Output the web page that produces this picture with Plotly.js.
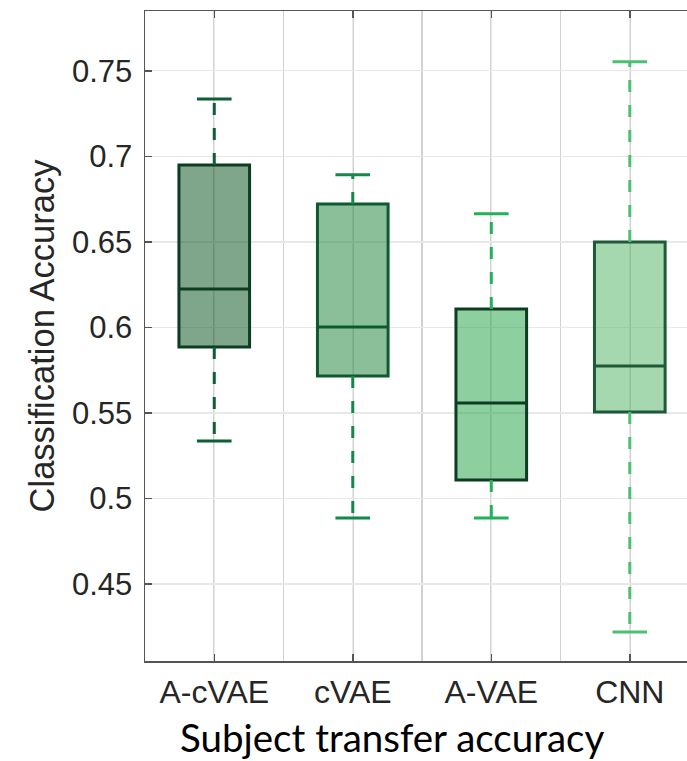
<!DOCTYPE html>
<html>
<head>
<meta charset="utf-8">
<script src="https://cdn.plot.ly/plotly-3.0.1.min.js"></script>
<style>html,body{margin:0;padding:0;background:#fff;}#chart{width:687px;height:761px;}</style>
</head>
<body>
<div id="chart"></div>
<script>
// ---- data ----
const categories = ["A-cVAE", "cVAE", "A-VAE", "CNN"];
const lowerWhisker = [0.5336, 0.4886, 0.4886, 0.4220];
const q1Values     = [0.5886, 0.5716, 0.5108, 0.5506];
const medianValues = [0.6225, 0.6003, 0.5558, 0.5775];
const q3Values     = [0.6950, 0.6722, 0.6108, 0.6500];
const upperWhisker = [0.7336, 0.6892, 0.6664, 0.7553];
const yTickVals = [0.45, 0.5, 0.55, 0.6, 0.65, 0.7, 0.75];
const yTickText = ["0.45", "0.5", "0.55", "0.6", "0.65", "0.7", "0.75"];

// ---- styles ----
const fillColors = ["rgba(0,75,21,0.5)", "rgba(23,127,53,0.5)", "rgba(29,159,65,0.5)", "rgba(77,177,97,0.5)"];
const edgeColors = ["#0b3d1f", "#0e5a2f", "#0c3d20", "#1f5a38"];
const whiskerColors = ["#0d5e35", "#13884a", "#22b05a", "#4cc072"];
const boxWidth = 0.51;
const capHalf = 0.125;

const positions = categories.map((c, i) => i + 1);
const traces = [];

categories.forEach((c, i) => {
  const x = positions[i];
  traces.push({
    type: "box",
    name: c,
    x: [x],
    q1: [q1Values[i]],
    median: [medianValues[i]],
    q3: [q3Values[i]],
    lowerfence: [q1Values[i]],
    upperfence: [q3Values[i]],
    width: boxWidth,
    whiskerwidth: 0,
    fillcolor: fillColors[i],
    line: { color: edgeColors[i], width: 3 },
    boxpoints: false,
    showlegend: false,
    hoverinfo: "skip"
  });
});

categories.forEach((c, i) => {
  const x = positions[i];
  traces.push({
    type: "scatter",
    mode: "lines",
    x: [x, x, null, x, x],
    y: [q3Values[i], upperWhisker[i], null, q1Values[i], lowerWhisker[i]],
    line: { color: whiskerColors[i], width: 3, dash: "12px,13px" },
    showlegend: false,
    hoverinfo: "skip"
  });
  traces.push({
    type: "scatter",
    mode: "lines",
    x: [x - capHalf, x + capHalf, null, x - capHalf, x + capHalf],
    y: [upperWhisker[i], upperWhisker[i], null, lowerWhisker[i], lowerWhisker[i]],
    line: { color: whiskerColors[i], width: 3 },
    showlegend: false,
    hoverinfo: "skip"
  });
});

const layout = {
  width: 687,
  height: 761,
  margin: { l: 145, r: 0, t: 11, b: 100 },
  paper_bgcolor: "#ffffff",
  plot_bgcolor: "#ffffff",
  showlegend: false,
  boxmode: "overlay",
  font: { family: "Liberation Sans, Arial, sans-serif", color: "#262626" },
  xaxis: {
    range: [0.5, 4.413],
    tickvals: positions,
    ticktext: categories,
    ticks: "inside",
    ticklen: 7,
    tickwidth: 1.5,
    tickcolor: "#555555",
    showline: true,
    linecolor: "#555555",
    linewidth: 1.5,
    mirror: "ticks",
    showgrid: true,
    gridcolor: "#e8e8e8",
    gridwidth: 1.2,
    zeroline: false,
    tickfont: { size: 32, color: "#262626" },
    ticklabelstandoff: 2,
    minor: { tickmode: "linear", tick0: 0.5, dtick: 0.5, showgrid: true, gridcolor: "#d2d2d2", gridwidth: 1.8, ticks: "" },
    fixedrange: true
  },
  yaxis: {
    range: [0.405, 0.785],
    tickvals: yTickVals,
    ticktext: yTickText,
    ticks: "inside",
    ticklen: 7,
    tickwidth: 1.5,
    tickcolor: "#555555",
    showline: true,
    linecolor: "#555555",
    linewidth: 1.5,
    mirror: false,
    showgrid: true,
    gridcolor: "#e8e8e8",
    gridwidth: 1.2,
    zeroline: false,
    tickfont: { size: 31, color: "#262626" },
    ticklabelstandoff: 5,
    title: { text: "Classification Accuracy", font: { size: 34.5, color: "#262626" }, standoff: 7 },
    fixedrange: true
  },
  annotations: [{
    text: "Subject transfer accuracy",
    xref: "paper", yref: "paper",
    x: 0.456, y: -0.078,
    xanchor: "center", yanchor: "top",
    showarrow: false,
    font: { family: "Lato, Open Sans, sans-serif", size: 38.5, color: "#000000" }
  }]
};

Plotly.newPlot("chart", traces, layout, { displayModeBar: false, staticPlot: true });
</script>
</body>
</html>
